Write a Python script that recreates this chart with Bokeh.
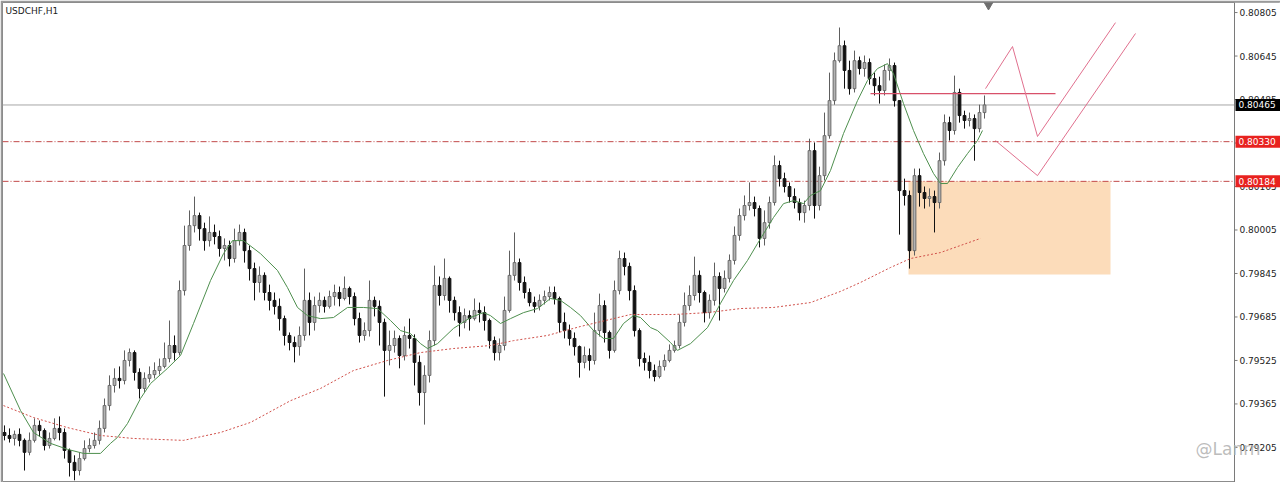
import numpy as np
from bokeh.plotting import figure
from bokeh.models import Range1d, ColumnDataSource
from bokeh.core.properties import value
from bokeh.embed import file_html
from bokeh.resources import INLINE

symbol = "USDCHF,H1"
watermark = "@Lanrn"

# prices in pipettes (1e-5)
first_open = 79260
close_pts = [
    79249, 79238, 79253, 79231, 79187, 79231, 79286, 79267, 79212, 79238,
    79275, 79260, 79194, 79150, 79120, 79164, 79201, 79212, 79231, 79275,
    79359, 79433, 79459, 79451, 79525, 79554, 79481, 79422, 79459, 79473,
    79488, 79503, 79532, 79580, 79554, 79782, 79948, 80021, 80058, 80010,
    79966, 79996, 79981, 79937, 79948, 79900, 79966, 79996, 79929, 79863,
    79812, 79838, 79775, 79746, 79724, 79679, 79617, 79591, 79576, 79617,
    79746, 79665, 79727, 79746, 79724, 79760, 79775, 79753, 79790, 79760,
    79679, 79617, 79635, 79746, 79724, 79665, 79562, 79580, 79606, 79543,
    79617, 79606, 79518, 79407, 79470, 79598, 79801, 79764, 79827, 79746,
    79701, 79665, 79690, 79679, 79709, 79701, 79672, 79598, 79554, 79580,
    79709, 79838, 79885, 79812, 79775, 79738, 79724, 79746, 79760, 79775,
    79753, 79665, 79635, 79606, 79576, 79518, 79543, 79525, 79635, 79727,
    79628, 79562, 79782, 79900, 79871, 79782, 79635, 79532, 79518, 79488,
    79466, 79503, 79525, 79562, 79580, 79665, 79727, 79764, 79838, 79775,
    79701, 79746, 79834, 79790, 79827, 79893, 79985, 80058, 80095, 80106,
    80084, 79974, 80032, 80106, 80242, 80194, 80165, 80128, 80106, 80069,
    80095, 80297, 80095, 80205, 80352, 80481, 80628, 80683, 80592, 80525,
    80628, 80599, 80621, 80562, 80536, 80518, 80592, 80610, 80481, 80150,
    80132, 79929, 80205, 80143, 80121, 80128, 80106, 80260, 80400, 80371,
    80511, 80426, 80408, 80415, 80378, 80437, 80465,
]
high_pts = [
    79286, 79275, 79267, 79275, 79238, 79260, 79312, 79304, 79275, 79260,
    79312, 79319, 79275, 79201, 79176, 79187, 79231, 79238, 79260, 79304,
    79385, 79470, 79496, 79503, 79562, 79569, 79562, 79496, 79481, 79503,
    79518, 79532, 79591, 79672, 79617, 79819, 80021, 80077, 80128, 80069,
    80032, 80055, 80025, 80003, 79974, 79966, 80010, 80025, 80010, 79948,
    79885, 79871, 79849, 79804, 79775, 79753, 79690, 79628, 79613, 79650,
    79863, 79775, 79760, 79775, 79760, 79782, 79804, 79797, 79834, 79797,
    79775, 79701, 79665, 79819, 79760, 79746, 79679, 79635, 79635, 79617,
    79650, 79679, 79621, 79543, 79507, 79635, 79874, 79834, 79900, 79834,
    79760, 79724, 79716, 79709, 79753, 79738, 79724, 79679, 79613, 79606,
    79760, 79929, 79996, 79900, 79834, 79790, 79760, 79768, 79782, 79797,
    79797, 79760, 79701, 79657, 79628, 79580, 79576, 79569, 79701, 79771,
    79746, 79635, 79819, 79929, 79922, 79885, 79801, 79643, 79554, 79543,
    79510, 79525, 79547, 79584, 79598, 79694, 79775, 79801, 79907, 79856,
    79782, 79768, 79885, 79849, 79856, 79915, 80018, 80084, 80132, 80180,
    80128, 80095, 80077, 80128, 80279, 80260, 80216, 80180, 80158, 80121,
    80113, 80341, 80327, 80238, 80437, 80584, 80658, 80750, 80702, 80628,
    80665, 80643, 80647, 80636, 80584, 80569, 80614, 80636, 80621, 80481,
    80194, 80150, 80231, 80231, 80165, 80158, 80150, 80290, 80430, 80422,
    80573, 80525, 80444, 80437, 80430, 80466, 80500,
]
low_pts = [
    79231, 79223, 79212, 79209, 79120, 79176, 79223, 79245, 79194, 79201,
    79231, 79231, 79164, 79098, 79084, 79102, 79157, 79187, 79201, 79216,
    79260, 79341, 79407, 79422, 79437, 79503, 79451, 79385, 79407, 79444,
    79459, 79473, 79496, 79518, 79525, 79543, 79764, 79929, 79996, 79966,
    79929, 79944, 79952, 79907, 79893, 79871, 79885, 79948, 79885, 79819,
    79746, 79775, 79746, 79709, 79694, 79635, 79580, 79562, 79518, 79543,
    79598, 79617, 79635, 79701, 79701, 79716, 79727, 79724, 79746, 79731,
    79654, 79591, 79598, 79613, 79687, 79580, 79392, 79507, 79554, 79496,
    79525, 79569, 79433, 79359, 79289, 79444, 79580, 79727, 79746, 79701,
    79672, 79613, 79643, 79635, 79672, 79665, 79635, 79569, 79525, 79525,
    79562, 79701, 79819, 79782, 79753, 79724, 79701, 79709, 79731, 79746,
    79731, 79628, 79606, 79580, 79543, 79462, 79496, 79488, 79510, 79613,
    79591, 79532, 79554, 79768, 79838, 79746, 79613, 79503, 79488, 79459,
    79448, 79459, 79488, 79518, 79554, 79569, 79650, 79709, 79746, 79738,
    79665, 79679, 79727, 79672, 79775, 79812, 79878, 79966, 80040, 80077,
    80055, 79941, 79948, 80010, 80095, 80165, 80143, 80106, 80084, 80040,
    80032, 80077, 80047, 80077, 80187, 80341, 80466, 80621, 80525, 80503,
    80511, 80577, 80569, 80540, 80500, 80470, 80500, 80555, 80459, 79988,
    80095, 79863, 79911, 80091, 80084, 80091, 79996, 80084, 80242, 80334,
    80356, 80400, 80378, 80386, 80260, 80364, 80415,
]

# moving averages (candle index, price in pipettes)
fast_ma_x = [-0.2, 3.2, 5.8, 9.2, 12.6, 15.8, 19.2, 21.2, 22.6, 24.6,
             27.2, 29.2, 32.6, 35.2, 37.8, 41.2, 43.8, 45.6, 47.8, 51.2,
             54.6, 56.6, 58.6, 60.6, 63.2, 65.8, 68.6, 71.8, 74.6, 77.2,
             79.2, 81.2, 83.2, 84.6, 86.6, 89.8, 93.2, 95.8, 97.2, 99.2,
             101.2, 103.8, 106.6, 109.2, 111.2, 113.2, 115.2, 117.8, 119.8, 121.8,
             123.8, 125.8, 127.2, 129.2, 130.6, 133.2, 134.6, 137.2, 140.6, 143.2,
             145.8, 148.6, 150.6, 153.8, 155.8, 157.8, 159.8, 161.2, 163.2, 165.2,
             167.8, 170.6, 172.6, 174.6, 176.6, 177.8, 179.8, 181.8, 183.8, 185.8,
             187.2, 188.6, 190.6, 192.6, 194.6, 195.6]
fast_ma = [79477, 79341, 79260, 79220, 79198, 79183, 79183, 79220, 79242, 79293,
           79385, 79440, 79496, 79543, 79661, 79819, 79918, 79966, 79966, 79918,
           79856, 79793, 79720, 79690, 79679, 79683, 79720, 79720, 79716, 79672,
           79635, 79624, 79587, 79569, 79587, 79643, 79683, 79701, 79690, 79661,
           79679, 79701, 79716, 79753, 79746, 79720, 79690, 79635, 79606, 79606,
           79661, 79690, 79683, 79646, 79635, 79591, 79562, 79587, 79646, 79735,
           79819, 79893, 79955, 80051, 80102, 80113, 80102, 80132, 80150, 80224,
           80360, 80481, 80555, 80599, 80617, 80580, 80470, 80371, 80286, 80213,
           80176, 80176, 80235, 80286, 80334, 80371]
slow_ma_x = [-0.2, 5.8, 12.6, 19.2, 25.8, 35.8, 43.2, 49.2, 57.2, 63.2,
             69.8, 76.6, 83.2, 89.8, 97.2, 101.8, 108.6, 115.2, 121.8, 125.2,
             133.8, 140.6, 147.2, 153.8, 161.2, 167.2, 171.2, 177.2, 181.2, 187.2,
             191.2, 195.2]
slow_ma = [79359, 79315, 79278, 79249, 79238, 79231, 79260, 79297, 79377, 79422,
           79488, 79525, 79554, 79569, 79580, 79598, 79617, 79650, 79679, 79694,
           79694, 79701, 79716, 79720, 79738, 79779, 79812, 79867, 79900, 79922,
           79948, 79974]

# drawn objects
zone_x = [180.8, 221.2]
zone_y = [79841, 80184]
resist_x = [173.2, 210.2]
resist_y = [80507, 80507]
path1_x = [196.2, 201.6, 206.6, 222.2]
path1_y = [80525, 80680, 80349, 80768]
path2_x = [198.2, 206.6, 226.2]
path2_y = [80334, 80205, 80728]
level_lines = [0.80330, 0.80184]
last_price = 0.80465
marker_x = [196.8]

tick_values = [0.79205, 0.79365, 0.79525, 0.79685, 0.79845, 0.80005,
               0.80165, 0.80325, 0.80485, 0.80645, 0.80805]

S = 1e-5
close = np.array(close_pts) * S
high = np.array(high_pts) * S
low = np.array(low_pts) * S
opn = np.concatenate([[first_open * S], close[:-1]])
idx = np.arange(len(close))
bull = close >= opn

# layout (data units: one candle = 5 px)
x_start, x_end = -0.4, 255.2
y_bot, y_top = 0.79076, 0.80842
axis_x = 246.0
px = 0.2                       # one pixel in x data units
py = (y_top - y_bot) / 480.0   # one pixel in price units

p = figure(width=1280, height=482, output_backend="svg", toolbar_location=None,
           x_range=Range1d(x_start, x_end), y_range=Range1d(y_bot, y_top),
           x_axis_location=None, y_axis_location=None,
           min_border_left=2, min_border_right=0, min_border_top=2, min_border_bottom=0)
p.grid.visible = False
p.outline_line_color = "#8c8c8c"
p.background_fill_color = "white"
p.border_fill_color = "#9a9a9a"

# zone
p.quad(left=[zone_x[0]], right=[zone_x[1]], bottom=[zone_y[0] * S], top=[zone_y[1] * S],
       fill_color="#fcdcba", line_color=None)

# level lines
p.line([x_start, axis_x], [last_price, last_price], line_color="#a6a6a6", line_width=1)
for lv in level_lines:
    p.line([x_start, axis_x], [lv, lv], line_color="#c24a4a", line_width=1, line_dash="6 2 1 2")

# candles
src_bull = ColumnDataSource(dict(x=idx[bull], o=opn[bull], c=close[bull], h=high[bull], l=low[bull]))
src_bear = ColumnDataSource(dict(x=idx[~bull], o=opn[~bull], c=close[~bull], h=high[~bull], l=low[~bull]))
p.segment(x0="x", y0="h", x1="x", y1="l", source=src_bull, line_color="#5e5e5e", line_width=1)
p.segment(x0="x", y0="h", x1="x", y1="l", source=src_bear, line_color="#111111", line_width=1)
p.vbar(x="x", width=0.55, top="c", bottom="o", source=src_bull,
       fill_color="#b3b3b3", line_color="#6a6a6a", line_width=1)
p.vbar(x="x", width=0.55, top="o", bottom="c", source=src_bear,
       fill_color="#111111", line_color="#111111", line_width=1)

# moving averages
p.line(fast_ma_x, np.array(fast_ma) * S, line_color="#4e8f4e", line_width=1)
p.line(slow_ma_x, np.array(slow_ma) * S, line_color="#d0504a", line_width=1, line_dash="2 2")

# drawings
p.line(resist_x, np.array(resist_y) * S, line_color="#d8506a", line_width=1.2)
p.line(path1_x, np.array(path1_y) * S, line_color="#e0708e", line_width=1)
p.line(path2_x, np.array(path2_y) * S, line_color="#e0708e", line_width=1)

p.scatter(marker_x, [y_top], marker="inverted_triangle", size=13,
          fill_color="#6e6e6e", line_color="#6e6e6e")

# title
p.text(x=[x_start + 3 * px], y=[y_top - 8 * py], text=[symbol],
       text_font=value("DejaVu Sans"), text_font_size=value("9px"), text_color="#222222",
       text_baseline="middle", text_align="left")

# price scale (right)
p.quad(left=[axis_x], right=[x_end], bottom=[y_bot], top=[y_top],
       fill_color="white", line_color=None)
p.segment(x0=[axis_x], y0=[y_bot], x1=[axis_x], y1=[y_top], line_color="#7a7a7a", line_width=1)
p.segment(x0=[axis_x] * len(tick_values), y0=tick_values,
          x1=[axis_x + 3 * px] * len(tick_values), y1=tick_values,
          line_color="#7a7a7a", line_width=1)
p.text(x=[axis_x + 5 * px] * len(tick_values), y=tick_values,
       text=["%.5f" % t for t in tick_values],
       text_font=value("DejaVu Sans"), text_font_size=value("9px"), text_color="#222222",
       text_baseline="middle", text_align="left")

box_prices = [last_price, level_lines[0], level_lines[1]]
box_colors = ["#000000", "#e8221f", "#e8221f"]
p.quad(left=[axis_x + 1 * px] * 3, right=[x_end] * 3,
       bottom=[b - 6 * py for b in box_prices], top=[b + 6 * py for b in box_prices],
       fill_color=box_colors, line_color=None)
p.text(x=[axis_x + 4 * px] * 3, y=box_prices, text=["%.5f" % b for b in box_prices],
       text_font=value("DejaVu Sans"), text_font_size=value("9px"), text_color="white",
       text_baseline="middle", text_align="left")

# watermark
p.text(x=[axis_x - 39 * px], y=[y_bot + 34 * py], text=[watermark],
       text_font=value("DejaVu Sans"), text_font_size=value("17px"), text_color="#b0b0b0",
       text_alpha=0.85, text_baseline="middle", text_align="left")

open("out.html", "w").write(file_html(p, INLINE))
